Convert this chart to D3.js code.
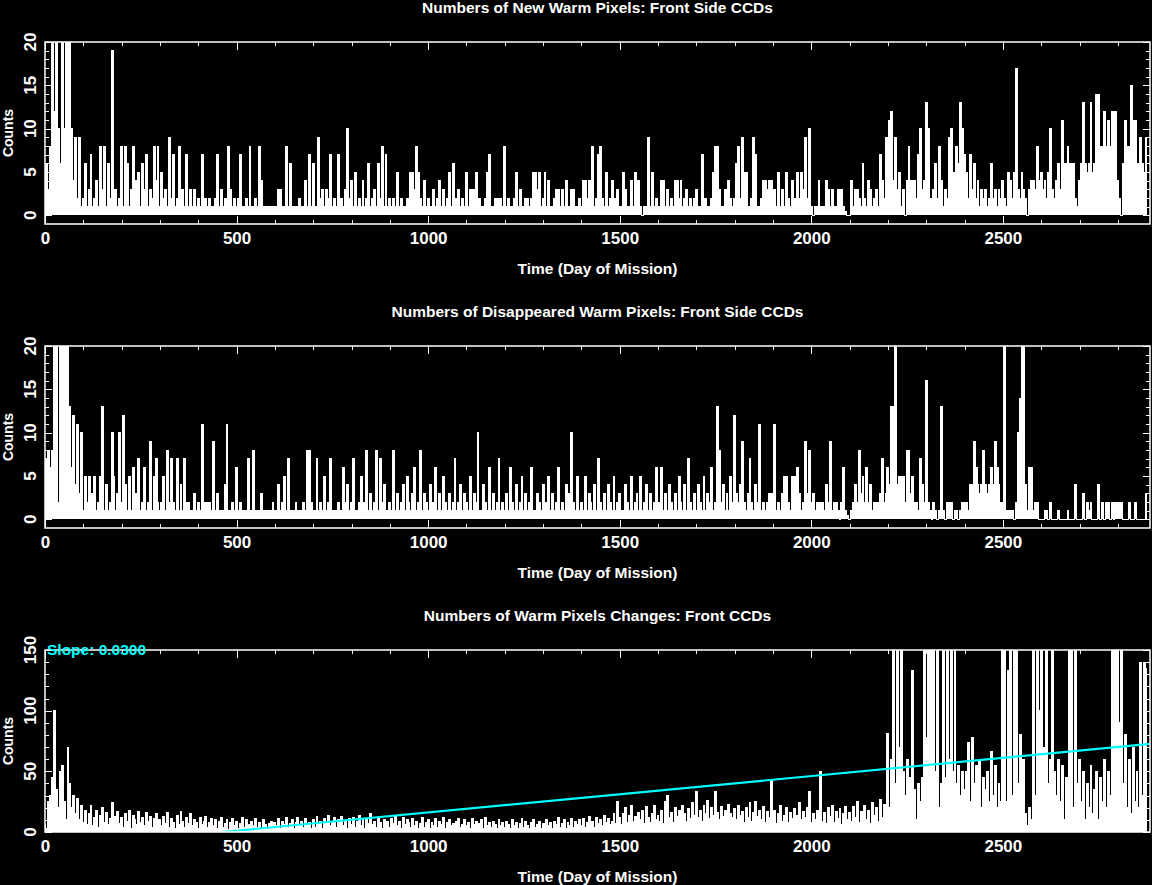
<!DOCTYPE html>
<html>
<head>
<meta charset="utf-8">
<script src="https://cdn.jsdelivr.net/npm/d3@7"></script>
<style>
  html, body { margin: 0; padding: 0; background: #000; }
  svg { display: block; }
  text { font-family: 'Liberation Sans', Arial, sans-serif; font-weight: bold; fill: #fff; }
</style>
</head>
<body>
<svg id="chart" width="1152" height="885"></svg>
<script>
const SVG = d3.select('#chart');
const WIDTH = 1152;
const HEIGHT = 885;
const LEFT = 45;
const RIGHT = 1150;
const DAY_STEP = 5;   // one value every 5 days
const X_MAX = 2884;

// DATA

const X_TICKS = [0, 500, 1000, 1500, 2000, 2500];
const X_MINOR_TICKS = [0, 100, 200, 300, 400, 500, 600, 700, 800, 900, 1000, 1100, 1200, 1300, 1400,
  1500, 1600, 1700, 1800, 1900, 2000, 2100, 2200, 2300, 2400, 2500, 2600, 2700, 2800];
const Y_TICKS_SMALL = [0, 5, 10, 15, 20];
const Y_TICKS_BIG = [0, 50, 100, 150];

const TITLES = [
  'Numbers of New Warm Pixels: Front Side CCDs',
  'Numbers of Disappeared Warm Pixels: Front Side CCDs',
  'Numbers of Warm Pixels Changes: Front CCDs'
];
const X_LABEL = 'Time (Day of Mission)';
const Y_LABEL = 'Counts';

// new warm pixels, rows of 100 days
const newWarm = [
  [1,6,3,8,25,12,25,10,6,25,10,25,10,25,10,4,9,2,9,1],
  [2,6,1,3,7,1,2,4,1,8,3,8,1,6,2,19,1,3,1,2],
  [8,1,8,6,1,3,8,1,4,5,1,6,3,7,1,3,2,8,4,8],
  [1,5,2,3,1,9,2,7,1,2,8,1,3,1,7,1,3,1,3,1],
  [2,1,7,1,2,1,2,1,1,2,7,1,3,1,2,1,8,3,1,2],
  [1,2,7,1,1,2,1,8,1,1,2,1,8,4,1,1,1,1,1,1],
  [1,1,3,3,1,1,8,1,6,1,1,1,1,2,1,1,4,1,7,1],
  [6,1,1,9,2,3,1,3,2,7,1,2,1,7,1,2,1,3,10,2],
  [4,1,5,1,2,1,4,1,2,6,1,2,3,1,6,2,8,1,7,1],
  [2,1,2,1,5,1,2,1,1,2,1,5,5,3,8,5,2,1,4,1],
  [2,1,1,3,1,2,4,1,3,1,2,5,1,6,1,2,3,1,2,1],
  [5,1,3,3,3,5,1,2,1,1,2,5,7,1,1,2,2,1,2,1],
  [8,1,2,1,1,2,5,1,3,1,1,2,2,1,2,5,5,3,5,1],
  [2,5,1,4,1,1,2,3,3,1,3,1,4,1,1,3,3,1,1,2],
  [1,4,4,2,4,1,8,1,2,7,8,2,1,5,1,2,4,1,2,3],
  [1,1,5,3,1,1,4,1,5,2,4,1,0,1,1,9,1,5,1,2],
  [1,1,4,4,1,3,1,2,1,4,4,2,4,1,2,3,1,2,1,2],
  [3,1,1,7,1,2,1,1,2,5,8,8,3,1,1,3,1,4,2,1],
  [2,6,8,2,9,5,5,1,1,2,9,7,1,1,2,4,4,3,4,4],
  [1,3,1,5,1,3,1,5,2,1,4,2,1,5,2,5,3,9,2,10],
  [1,0,1,1,4,1,1,1,4,3,1,3,1,1,3,1,3,1,0.5,0],
  [0,4,1,3,3,2,1,6,2,1,4,3,1,2,3,1,7,4,2,9],
  [9,11,12,4,9,3,5,1,3,0,4,8,4,4,4,2,7,10,3,4],
  [13,10,2,1,3,6,2,8,4,1,3,2,9,10,5,3,8,6,13,10],
  [7,5,2,7,3,6,2,4,1,3,2,3,1,2,6,2,3,1,3,2],
  [4,2,1,5,4,2,5,17,3,2,5,3,2,0,3,4,4,3,8,4],
  [5,3,4,2,5,10,3,2,4,6,3,11,6,6,8,6,6,6,2,1],
  [4,6,13,6,5,6,13,5,6,14,14,8,8,12,8,11,8,12,8,12],
  [4,2,0,6,11,8,8,15,11,11,6,6,9,6,5,9]
].flat();

// disappeared warm pixels
const disappeared = [
  [1,7,8,6,8,25,22,2,25,25,20,25,25,13,6,12,4,11,3,10],
  [1,5,2,5,1,3,5,1,2,5,13,1,4,1,2,10,5,1,3,10],
  [2,12,4,1,5,1,6,2,3,7,1,2,6,1,2,9,1,5,7,2],
  [1,2,5,1,8,2,7,2,1,7,1,4,1,7,2,2,1,1,3,1],
  [2,1,11,1,2,2,2,1,9,1,3,1,1,1,4,11,1,1,2,1],
  [6,1,2,1,1,1,7,1,1,8,1,1,1,3,1,1,1,1,1,2],
  [1,1,4,1,2,5,1,7,1,1,1,2,1,1,1,2,1,8,8,2],
  [1,1,7,1,2,1,5,1,2,7,1,1,1,2,1,1,6,2,4,1],
  [2,7,1,1,2,5,1,2,8,1,3,1,2,8,1,7,2,4,1,1],
  [2,1,8,1,3,1,2,4,1,5,2,1,3,6,1,2,8,1,3,2],
  [1,4,1,2,6,1,3,1,5,2,1,3,1,2,7,1,2,4,1,3],
  [2,1,5,1,3,2,10,1,1,4,2,1,6,1,3,1,2,7,1,2],
  [1,3,1,6,2,1,4,1,2,5,1,3,1,2,6,1,1,3,2,1],
  [4,1,2,5,1,3,1,2,6,1,2,1,4,1,3,10,2,1,5,1],
  [2,1,5,1,3,2,1,4,1,7,2,1,3,1,4,2,1,5,1,2],
  [3,1,1,4,2,1,5,1,2,3,1,5,1,2,4,1,3,1,2,6],
  [1,2,6,1,3,1,4,2,1,3,1,5,2,1,4,1,7,2,1,3],
  [1,4,2,1,5,1,3,2,6,1,2,13,8,2,4,1,3,1,5,2],
  [12,3,2,4,9,2,1,3,7,2,1,4,2,11,1,2,1,2,3,3],
  [3,11,1,2,1,3,5,5,2,1,5,5,2,6,3,1,2,9,3,8],
  [2,3,1,2,2,2,2,1,4,2,9,1,2,2,1,0,2,6,1,0.5],
  [0,1,2,4,2,8,3,5,2,6,2,4,1,2,2,2,3,7,2,3],
  [6,4,13,13,25,4,5,5,5,2,8,8,3,5,2,2,1,7,4,2],
  [16,2,1,0,2,1,0,1,13,1,0,2,2,2,0,1,1,0,1,2],
  [2,2,1,4,4,9,6,4,3,4,8,4,3,4,6,4,9,6,4,2],
  [2,25,1,1,1,1,0,2,10,14,25,25,4,1,6,6,1,2,2,0],
  [0,0,1,1,0,2,0,0,0,1,0,0,0,0,1,0,0,0,4,0],
  [0,0,3,0,2,1,2,0,0,0,4,0,2,0,2,2,0,2,0,2],
  [2,2,2,0,0,0,2,0,0,2,0,0,0,0,0,3]
].flat();

// total warm pixel changes
const changes = [
  [2,3,25,30,45,100,35,20,50,55,25,10,70,40,20,30,15,28,10,22],
  [8,18,6,15,22,5,12,18,4,14,20,8,16,6,11,24,5,13,17,7],
  [12,4,15,9,18,3,14,10,6,17,8,12,5,16,9,13,4,11,15,6],
  [10,5,13,7,16,4,11,8,3,14,6,17,9,4,12,7,15,5,10,8],
  [3,12,6,9,13,4,8,11,5,10,3,9,12,4,7,10,2,8,11,5],
  [9,3,7,12,4,10,6,2,9,5,11,4,8,3,10,6,2,7,9,4],
  [8,5,11,3,9,6,12,4,7,10,3,8,12,5,9,4,11,6,8,3],
  [10,4,13,6,9,3,11,7,14,5,8,12,4,10,6,13,5,9,3,11],
  [6,12,4,9,14,5,10,3,11,7,15,6,9,4,12,8,3,10,6,9],
  [4,11,7,13,5,9,3,12,6,10,8,4,11,5,9,3,7,12,4,8],
  [10,3,8,5,11,4,9,6,12,3,8,10,5,7,3,9,11,4,6,10],
  [5,8,3,11,6,9,4,7,10,3,12,5,8,4,9,6,3,10,5,8],
  [4,9,6,3,10,5,8,3,7,11,4,9,5,3,8,10,4,6,9,3],
  [7,4,10,5,8,3,9,6,12,4,7,10,3,8,5,11,4,9,6,10],
  [5,11,4,8,13,6,9,4,12,7,10,5,14,8,11,6,9,15,7,25],
  [12,6,15,20,8,14,22,9,13,6,16,10,18,7,21,12,8,15,22,10],
  [14,9,18,7,25,30,12,16,8,20,13,18,10,22,15,9,19,11,24,14],
  [33,12,18,9,22,15,26,11,20,14,33,16,10,21,13,18,9,23,15,12],
  [19,10,22,14,17,8,20,12,24,9,16,25,13,18,10,21,8,17,12,43],
  [10,18,7,15,22,9,14,20,8,16,11,19,6,14,24,10,17,12,20,33],
  [8,15,10,18,12,50,9,16,7,20,13,22,8,17,11,19,6,15,21,10],
  [16,9,21,12,25,8,17,13,22,10,18,7,24,14,20,9,27,12,23,15],
  [81,20,60,160,40,160,70,160,50,30,60,20,45,133,35,10,40,25,45,160],
  [78,160,160,60,160,50,160,20,40,160,45,160,60,160,50,160,40,55,30,50],
  [35,50,74,25,78,40,55,30,60,20,45,35,50,25,66,30,55,20,40,25],
  [150,160,25,133,160,30,160,160,40,80,30,60,15,5,20,10,160,30,160,100],
  [160,70,20,160,40,60,160,50,30,60,25,55,10,45,30,160,160,20,160,40],
  [60,25,50,10,40,20,55,15,35,50,10,45,25,60,20,50,30,160,110,160],
  [160,90,160,40,80,20,60,15,70,25,50,20,140,30,140,135]
].flat();

// linear fit on the changes panel
const FIT_SLOPE = 0.03;
const FIT_INTERCEPT = -13.9;
const FIT_DAYS = [463, X_MAX];
const SLOPE_LABEL = 'Slope: 0.0300';

// FUNCTIONS

const x = d3.scaleLinear().domain([0, X_MAX]).range([LEFT, RIGHT]);

function styleAxis(g) {
  g.attr('color', '#fff').attr('font-family', null).attr('font-size', null);
  g.select('.domain').remove();
  g.selectAll('line').attr('stroke-width', 1).attr('shape-rendering', 'crispEdges');
}

function drawPanel(p) {
  const y = d3.scaleLinear().domain(p.yDomain).range([p.bottom, p.top]);
  const g = SVG.append('g');

  g.append('clipPath').attr('id', `clip-${p.id}`)
    .append('rect')
    .attr('x', LEFT)
    .attr('y', p.top)
    .attr('width', RIGHT - LEFT)
    .attr('height', p.bottom - p.top);

  // the daily data is so dense that it reads as a filled silhouette
  const area = d3.area()
    .x((d, i) => x(i * DAY_STEP))
    .y0(y(0))
    .y1(d => y(d))
    .curve(d3.curveStep);

  const line = d3.line()
    .x((d, i) => x(i * DAY_STEP))
    .y(d => y(d))
    .curve(d3.curveStep);

  g.append('path')
    .datum(p.values)
    .attr('d', area)
    .attr('fill', '#fff')
    .attr('shape-rendering', 'crispEdges')
    .attr('clip-path', `url(#clip-${p.id})`);

  g.append('path')
    .datum(p.values)
    .attr('d', line)
    .attr('fill', 'none')
    .attr('stroke', '#fff')
    .attr('stroke-width', 1)
    .attr('shape-rendering', 'crispEdges')
    .attr('clip-path', `url(#clip-${p.id})`);

  if (p.fit) {
    g.append('path')
      .datum(FIT_DAYS)
      .attr('d', d3.line().x(d => x(d)).y(d => y(FIT_SLOPE * d + FIT_INTERCEPT)))
      .attr('stroke', '#00ffff')
      .attr('stroke-width', 2.2)
      .attr('fill', 'none')
      .attr('clip-path', `url(#clip-${p.id})`);
  }

  // frame
  g.append('rect')
    .attr('x', LEFT)
    .attr('y', p.top)
    .attr('width', RIGHT - LEFT)
    .attr('height', p.bottom - p.top)
    .attr('fill', 'none')
    .attr('stroke', '#fff')
    .attr('stroke-width', 1.5);

  // x axes, ticks pointing in
  g.append('g').attr('transform', `translate(0,${p.bottom})`)
    .call(d3.axisBottom(x).tickValues(X_TICKS).tickSizeInner(-8).tickSizeOuter(0).tickPadding(8).tickFormat(d3.format('d')))
    .call(styleAxis)
    .selectAll('text').attr('font-size', 17);
  g.append('g').attr('transform', `translate(0,${p.bottom})`)
    .call(d3.axisBottom(x).tickValues(X_MINOR_TICKS).tickSize(-4).tickFormat(''))
    .call(styleAxis);
  g.append('g').attr('transform', `translate(0,${p.top})`)
    .call(d3.axisTop(x).tickValues(X_TICKS).tickSize(-8).tickFormat(''))
    .call(styleAxis);
  g.append('g').attr('transform', `translate(0,${p.top})`)
    .call(d3.axisTop(x).tickValues(X_MINOR_TICKS).tickSize(-4).tickFormat(''))
    .call(styleAxis);

  // y axes
  g.append('g').attr('transform', `translate(${LEFT},0)`)
    .call(d3.axisLeft(y).tickValues(p.yTicks).tickSize(-7).tickFormat(''))
    .call(styleAxis);
  g.append('g').attr('transform', `translate(${LEFT},0)`)
    .call(d3.axisLeft(y).tickValues(p.yMinor).tickSize(-4).tickFormat(''))
    .call(styleAxis);
  g.append('g').attr('transform', `translate(${RIGHT},0)`)
    .call(d3.axisRight(y).tickValues(p.yTicks).tickSize(-7).tickFormat(''))
    .call(styleAxis);
  g.append('g').attr('transform', `translate(${RIGHT},0)`)
    .call(d3.axisRight(y).tickValues(p.yMinor).tickSize(-4).tickFormat(''))
    .call(styleAxis);

  // rotated y tick labels
  g.selectAll('.ylab')
    .data(p.yTicks)
    .join('text')
    .attr('class', 'ylab')
    .attr('transform', d => `translate(30,${y(d)}) rotate(-90)`)
    .attr('text-anchor', 'middle')
    .attr('dy', '0.35em')
    .attr('font-size', 17)
    .text(d => d);

  g.append('text')
    .attr('transform', `translate(8,${(p.top + p.bottom) / 2}) rotate(-90)`)
    .attr('text-anchor', 'middle')
    .attr('dy', '0.35em')
    .attr('font-size', 14)
    .text(Y_LABEL);

  g.append('text')
    .attr('x', (LEFT + RIGHT) / 2)
    .attr('y', p.top - 34)
    .attr('dy', '0.35em')
    .attr('text-anchor', 'middle')
    .attr('font-size', 15.5)
    .text(p.title);

  g.append('text')
    .attr('x', (LEFT + RIGHT) / 2)
    .attr('y', p.bottom + 45)
    .attr('dy', '0.35em')
    .attr('text-anchor', 'middle')
    .attr('font-size', 15.5)
    .text(X_LABEL);

  if (p.fit) {
    g.append('text')
      .attr('x', LEFT + 2)
      .attr('y', p.top)
      .attr('dy', '0.35em')
      .attr('font-size', 15.5)
      .style('fill', '#00ffff')
      .text(SLOPE_LABEL);
  }
}

SVG.append('rect').attr('width', WIDTH).attr('height', HEIGHT).attr('fill', '#000');

drawPanel({ id: 'new', top: 42, bottom: 224, yDomain: [-1, 20], yTicks: Y_TICKS_SMALL,
  yMinor: d3.range(0, 21), values: newWarm, title: TITLES[0] });
drawPanel({ id: 'gone', top: 346, bottom: 528, yDomain: [-1, 20], yTicks: Y_TICKS_SMALL,
  yMinor: d3.range(0, 21), values: disappeared, title: TITLES[1] });
drawPanel({ id: 'change', top: 650, bottom: 832, yDomain: [0, 150], yTicks: Y_TICKS_BIG,
  yMinor: d3.range(0, 151, 10), values: changes, title: TITLES[2], fit: true });
</script>
</body>
</html>
